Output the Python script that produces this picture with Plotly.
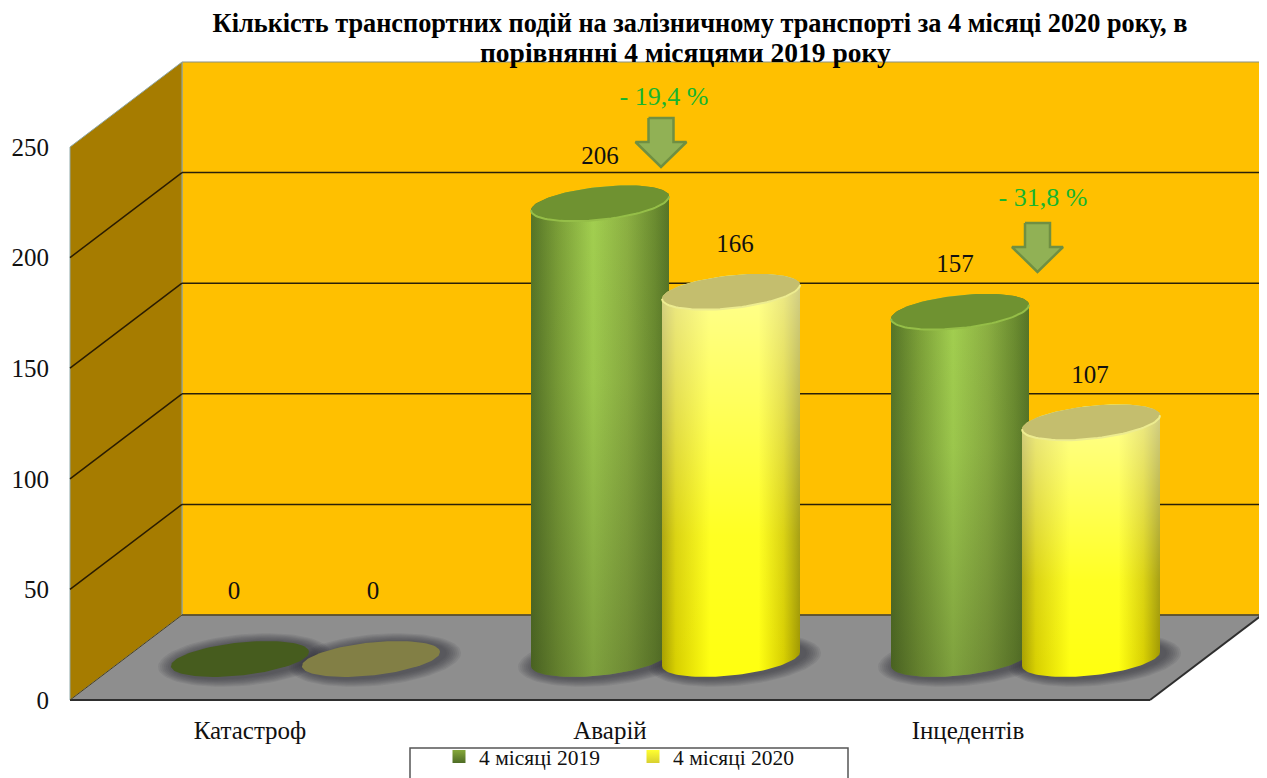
import numpy as np
import plotly.graph_objects as go

# data
categories = ['Катастроф', 'Аварій', 'Інцедентів']
values_2019 = [0, 206, 157]
values_2020 = [0, 166, 107]
series_names = ['4 місяці 2019', '4 місяці 2020']
y_ticks = [0, 50, 100, 150, 200, 250]
changes = ['- 19,4 %', '- 31,8 %']
title_lines = ['Кількість транспортних подій на залізничному транспорті за 4 місяці 2020 року, в',
               'порівнянні 4 місяцями 2019 року']

# geometry of the fake 3d box, x axis runs in screen pixels
# the page has an 8px body margin, so the figure starts at (8, 8)
PAGE_MARGIN = 8
PX = (700 - 147) / 250          # pixels per unit of value
PLOT_LEFT = 54
PLOT_BOTTOM = 713
BOX_L, BOX_R = 70, 1150
DEPTH_X = 112
DEPTH_Y = 85 / PX
BASE = 41 / PX                  # cylinder base sits on the middle of the floor
GROUPS = [305.5, 665.5, 1025.5]
LABEL_X = [250, 610, 968]
PAIR = 65.5
A, TILT, B = 69, 7, 16.5        # cap ellipse, in pixels


def paper_x(px):
    return (px - PLOT_LEFT) / (1267 - PLOT_LEFT)


def paper_y(px):
    return (PLOT_BOTTOM - px) / (PLOT_BOTTOM - PAGE_MARGIN)


def cap(cx, val, t):
    x = cx + A * np.cos(t)
    y = val + (TILT * np.cos(t) + B * np.sin(t)) / PX
    return x, y


def side(cx, val):
    x0, y0 = cap(cx, BASE, np.linspace(np.pi, 2 * np.pi, 50))
    x1, y1 = cap(cx, BASE + val, np.linspace(0, np.pi, 50))
    return np.r_[x0, x1], np.r_[y0, y1]


def blob(fig, x, y, **kw):
    fig.add_trace(go.Scatter(x=x, y=y, mode='lines', fill='toself', showlegend=False,
                             hoverinfo='skip', **kw))


def cylinder(fig, cx, val, horiz, vert, cap_color, rim_color, flat_color):
    full = np.linspace(0, 2 * np.pi, 100)
    if val == 0:
        x, y = cap(cx, BASE, full)
        blob(fig, x, y, line=dict(width=0), fillcolor=flat_color)
        return
    x, y = side(cx, val)
    blob(fig, x, y, line=dict(width=0), fillgradient=dict(type='horizontal', colorscale=horiz))
    blob(fig, x, y, line=dict(width=0), fillgradient=dict(type='vertical', colorscale=vert))
    x, y = cap(cx, BASE + val, full)
    blob(fig, x, y, line=dict(width=0), fillcolor=cap_color)
    # light rim only along the front of the cap
    x, y = cap(cx, BASE + val, np.linspace(np.pi, 2 * np.pi, 50))
    fig.add_trace(go.Scatter(x=x, y=y, mode='lines', line=dict(width=2, color=rim_color),
                             showlegend=False, hoverinfo='skip'))


def shadow(fig, cx):
    full = np.linspace(0, 2 * np.pi, 80)
    for grow in [17, 15, 13, 11, 9, 7, 5, 3]:
        x = cx + 4 + (A + grow) * np.cos(full)
        y = BASE + (TILT * np.cos(full) + (B + grow * 0.55) * np.sin(full)) / PX - 1 / PX
        blob(fig, x, y, line=dict(width=0), fillcolor='rgba(45,45,50,0.09)')


def arrow(fig, cx, top_px):
    # block arrow pointing down, 51 wide and 49 tall
    dx = np.array([-12.5, 12.5, 12.5, 25.5, 0, -25.5, -12.5, -12.5])
    dy = np.array([0, 0, 24, 24, 49, 24, 24, 0])
    blob(fig, cx + dx, (700 - (top_px + dy)) / PX, line=dict(width=2.5, color='#6F8F42'),
         fillcolor='#91B155')


green_h = [[0, '#567527'], [0.2, '#7CA038'], [0.45, '#A3D050'], [0.7, '#8CB042'], [0.9, '#6B8C30'], [1, '#567527']]
green_v = [[0, 'rgba(40,50,20,0.30)'], [0.6, 'rgba(40,50,20,0.06)'], [1, 'rgba(40,50,20,0)']]
yellow_h = [[0, '#A8A000'], [0.1, '#D8D000'], [0.35, '#FFFF10'], [0.7, '#FFFF10'], [0.88, '#D8D000'], [1, '#A09800']]
yellow_v = [[0, 'rgba(255,255,255,0)'], [0.35, 'rgba(255,255,255,0.08)'], [1, 'rgba(255,255,255,0.55)']]

# walls and floor
shapes = [
    dict(type='rect', x0=BOX_L + DEPTH_X, x1=BOX_R + DEPTH_X, y0=DEPTH_Y, y1=y_ticks[-1] + DEPTH_Y,
         fillcolor='#FFC000', line=dict(width=1, color='#8A8F80'), layer='below'),
    dict(type='path', path=f'M{BOX_L},0 L{BOX_L + DEPTH_X},{DEPTH_Y} L{BOX_L + DEPTH_X},{250 + DEPTH_Y} L{BOX_L},250 Z',
         fillcolor='#A67C00', line=dict(width=1, color='#8FA8A8'), layer='below'),
    dict(type='path', path=f'M{BOX_L},0 L{BOX_R},0 L{BOX_R + DEPTH_X},{DEPTH_Y} L{BOX_L + DEPTH_X},{DEPTH_Y} Z',
         fillcolor='#8E8E8E', line=dict(width=0), layer='below'),
]
for v in y_ticks[1:-1]:
    shapes.append(dict(type='line', x0=BOX_L + DEPTH_X, x1=BOX_R + DEPTH_X, y0=v + DEPTH_Y, y1=v + DEPTH_Y,
                       line=dict(width=1.5, color='#2A2008'), layer='below'))
    shapes.append(dict(type='line', x0=BOX_L, x1=BOX_L + DEPTH_X, y0=v, y1=v + DEPTH_Y,
                       line=dict(width=1.5, color='#2A1C00'), layer='below'))
shapes.append(dict(type='line', x0=BOX_L, x1=BOX_R, y0=0, y1=0, line=dict(width=2, color='#2E2E2E'), layer='below'))
shapes.append(dict(type='line', x0=BOX_R, x1=BOX_R + DEPTH_X, y0=0, y1=DEPTH_Y, line=dict(width=2, color='#2E2E2E'), layer='below'))
shapes.append(dict(type='line', x0=BOX_L, x1=BOX_L + DEPTH_X, y0=0, y1=DEPTH_Y, line=dict(width=1, color='#4A4020'), layer='below'))
shapes.append(dict(type='line', x0=BOX_L + DEPTH_X, x1=BOX_R + DEPTH_X, y0=DEPTH_Y, y1=DEPTH_Y, line=dict(width=1.5, color='#4A4020'), layer='below'))
# legend box is drawn by hand so it can be cut by the page edge like in the source
shapes.append(dict(type='rect', xref='paper', yref='paper', x0=paper_x(410), x1=paper_x(848),
                   y0=paper_y(790), y1=paper_y(748),
                   fillcolor='white', line=dict(width=1.5, color='#555555')))

fig = go.Figure()

for g in GROUPS:
    shadow(fig, g - PAIR)
    shadow(fig, g + PAIR)

for g, a, b in zip(GROUPS, values_2019, values_2020):
    cylinder(fig, g - PAIR, a, green_h, green_v, '#6F9231', '#95BE48', '#465C1E')
    cylinder(fig, g + PAIR, b, yellow_h, yellow_v, '#C4BE6E', '#EDEC90', '#827F45')

# value labels above the caps
label_x = [234, 373, 600, 735, 955, 1090]
label_vals = [values_2019[0], values_2020[0], values_2019[1], values_2020[1], values_2019[2], values_2020[2]]
label_y = [BASE + v + (66 if v == 0 else 46) / PX for v in label_vals]
fig.add_trace(go.Scatter(x=label_x, y=label_y, mode='text', text=[str(v) for v in label_vals],
                         textfont=dict(family='Liberation Serif', size=25, color='#111111'),
                         showlegend=False, hoverinfo='skip'))

# drop arrows and percent labels
arrow(fig, 661, 118)
arrow(fig, 1037.5, 223)
fig.add_trace(go.Scatter(x=[664, 1043], y=[(700 - 98) / PX, (700 - 199) / PX], mode='text', text=changes,
                         textfont=dict(family='Liberation Serif', size=26, color='#16B52E'),
                         showlegend=False, hoverinfo='skip'))

# legend only entries
fig.add_trace(go.Scatter(x=[None], y=[None], mode='markers', name=series_names[0],
                         marker=dict(symbol='square', size=13, color='#85A83A',
                                     gradient=dict(type='vertical', color='#4E6C25'))))
fig.add_trace(go.Scatter(x=[None], y=[None], mode='markers', name=series_names[1],
                         marker=dict(symbol='square', size=13, color='#FFFF30',
                                     gradient=dict(type='vertical', color='#D8D030'))))

fig.update_layout(
    template='none',
    width=1267 - PAGE_MARGIN, height=778 - PAGE_MARGIN,
    margin=dict(l=PLOT_LEFT - PAGE_MARGIN, r=0, t=0, b=778 - PLOT_BOTTOM, autoexpand=False),
    paper_bgcolor='white', plot_bgcolor='white',
    font=dict(family='Liberation Serif', color='#111111'),
    title=dict(text=f'<b>{title_lines[0]}</b>',
               x=(700 - PAGE_MARGIN) / (1267 - PAGE_MARGIN), xanchor='center',
               y=1 - (23 - PAGE_MARGIN) / (778 - PAGE_MARGIN), yanchor='middle', yref='container',
               font=dict(family='Liberation Serif', size=26.3, color='black')),
    annotations=[dict(text=f'<b>{title_lines[1]}</b>', xref='paper', yref='paper',
                      x=paper_x(685.5), y=paper_y(53), xanchor='center', yanchor='middle', showarrow=False,
                      font=dict(family='Liberation Serif', size=27.5, color='black'))],
    shapes=shapes,
    legend=dict(orientation='h', x=paper_x(439), xanchor='left', y=paper_y(736), yanchor='top',
                bgcolor='rgba(0,0,0,0)', borderwidth=0, entrywidth=149, entrywidthmode='pixels',
                font=dict(family='Liberation Serif', size=21.5)),
    xaxis=dict(range=[PLOT_LEFT, 1267], tickmode='array', tickvals=LABEL_X, ticktext=categories,
               showgrid=False, zeroline=False, showline=False, ticks='', ticklabelstandoff=0,
               tickfont=dict(family='Liberation Serif', size=25)),
    yaxis=dict(range=[(700 - PLOT_BOTTOM) / PX, (700 - PAGE_MARGIN) / PX], tickmode='array', tickvals=y_ticks,
               showgrid=False, zeroline=False, showline=False, ticks='', ticklabelstandoff=4,
               tickfont=dict(family='Liberation Serif', size=25)),
)

fig.write_html("out.html")
